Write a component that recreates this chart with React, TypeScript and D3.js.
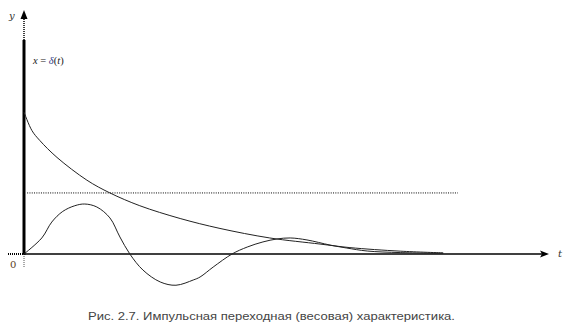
import React from "react";
import * as d3 from "d3";

const W = 567;
const H = 334;

// decaying weight function (upper curve)
const decayT = [0, 0.15, 0.3, 0.63, 1.2, 1.64, 2.21, 2.98, 3.74, 4.69, 5.65, 6.22, 7.18, 8.0];
const decayV = [1.0, 0.87, 0.8, 0.68, 0.52, 0.43, 0.34, 0.25, 0.18, 0.113, 0.07, 0.045, 0.02, 0.008];

// oscillating weight function
const oscT = [0, 0.34, 0.53, 0.74, 0.97, 1.16, 1.39, 1.64, 1.83, 2.02, 2.27, 2.6, 2.9, 3.23, 3.36, 3.61, 3.97, 4.26, 4.56, 4.83, 5.08, 5.4, 5.84, 6.16, 6.55, 7.18, 8.0];
const oscV = [0, 0.113, 0.225, 0.3, 0.34, 0.352, 0.331, 0.254, 0.12, 0, -0.113, -0.197, -0.22, -0.183, -0.162, -0.092, 0, 0.049, 0.085, 0.106, 0.113, 0.099, 0.063, 0.042, 0.021, 0.01, 0.005];

// horizontal dotted reference level
const levelV = 0.43;
const levelT = [0.06, 8.28];

const xLabel = "t";
const yLabel = "y";
const zeroLabel = "0";
const caption = "Рис. 2.7. Импульсная переходная (весовая) характеристика.";

export default function App() {
  const x = d3.scaleLinear().domain([0, 10]).range([24, 548]);
  const y = d3.scaleLinear().domain([0, 1]).range([254, 112]);

  const line = d3
    .line<[number, number]>()
    .x((d) => x(d[0]))
    .y((d) => y(d[1]))
    .curve(d3.curveCatmullRom.alpha(0.5));

  const decayPts: [number, number][] = decayT.map((t, i) => [t, decayV[i]]);
  const oscPts: [number, number][] = oscT.map((t, i) => [t, oscV[i]]);

  const x0 = x(0);
  const y0 = y(0);

  return (
    <svg
      width={W}
      height={H}
      style={{ position: "absolute", left: 0, top: 0, background: "#fff" }}
    >
      {/* y axis */}
      <line x1={x0} x2={x0} y1={40} y2={y0 + 1} stroke="#000" strokeWidth={3} />
      <line x1={x0} x2={x0} y1={17} y2={40} stroke="#000" strokeWidth={1.5} strokeDasharray="1 1" />
      <line x1={x0} x2={x0} y1={y0} y2={268} stroke="#555" strokeWidth={1} strokeDasharray="1 1" />
      <path d={`M${x0},10 L${x0 - 3.5},19 L${x0 + 3.5},19 Z`} fill="#000" />

      {/* x axis */}
      <line x1={x0} x2={545} y1={y0} y2={y0} stroke="#000" strokeWidth={1.6} />
      <line x1={8} x2={x0} y1={y0} y2={y0} stroke="#000" strokeWidth={2} strokeDasharray="1 1" />
      <path d={`M549,${y0} L540,${y0 - 3.5} L542,${y0} L540,${y0 + 3.5} Z`} fill="#000" />

      {/* reference level */}
      <line
        x1={x(levelT[0])}
        x2={x(levelT[1])}
        y1={y(levelV)}
        y2={y(levelV)}
        stroke="#000"
        strokeWidth={1}
        strokeDasharray="1 1.3"
      />

      {/* curves */}
      <path d={line(decayPts) || ""} fill="none" stroke="#222" strokeWidth={1} />
      <path d={line(oscPts) || ""} fill="none" stroke="#222" strokeWidth={1} />

      {/* labels */}
      <text x={9} y={19} fontFamily="DejaVu Serif, serif" fontStyle="italic" fontSize={10} fill="#333">
        {yLabel}
      </text>
      <text x={558} y={257} fontFamily="DejaVu Serif, serif" fontStyle="italic" fontSize={10} fill="#333">
        {xLabel}
      </text>
      <text x={10} y={268} fontFamily="DejaVu Serif, serif" fontSize={10} fill="#5a4020">
        {zeroLabel}
      </text>
      <text x={33} y={64} fontFamily="Liberation Serif, serif" fontSize={10.5} fill="#222">
        <tspan fontStyle="italic">x</tspan>
        <tspan> = </tspan>
        <tspan fontStyle="italic" fill="#2a3a8a">δ</tspan>
        <tspan>(</tspan>
        <tspan fontStyle="italic">t</tspan>
        <tspan>)</tspan>
      </text>
      <text
        x={88}
        y={320}
        fontFamily="Liberation Sans, Arial, sans-serif"
        fontSize={11.3}
        fill="#444"
        textLength={367}
        lengthAdjust="spacingAndGlyphs"
      >
        {caption}
      </text>
    </svg>
  );
}
